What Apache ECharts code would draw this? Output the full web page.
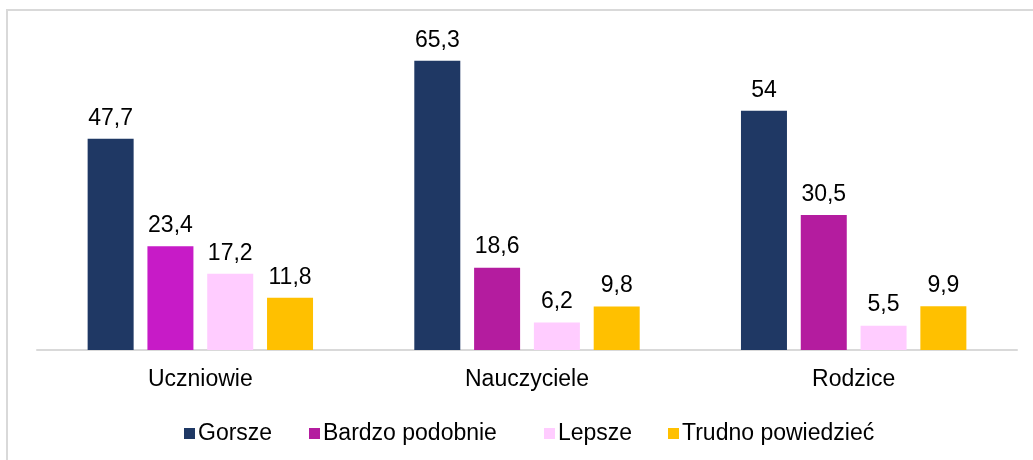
<!DOCTYPE html>
<html>
<head>
<meta charset="utf-8">
<script src="https://cdn.jsdelivr.net/npm/echarts@6/dist/echarts.min.js"></script>
<style>
  html, body { margin: 0; padding: 0; background: #fff; }
  #container { width: 1033px; height: 460px; }
</style>
</head>
<body>
<div id="container"></div>
<script>
var categories = ['Uczniowie', 'Nauczyciele', 'Rodzice'];
var seriesNames = ['Gorsze', 'Bardzo podobnie', 'Lepsze', 'Trudno powiedzieć'];
var gorsze = [47.7, 65.3, 54];
var bardzoPodobnie = [23.4, 18.6, 30.5];
var lepsze = [17.2, 6.2, 5.5];
var trudno = [11.8, 9.8, 9.9];

var colors = ['#1F3864', '#B41C9F', '#FFCCFF', '#FFC000'];
var font = 'Arial, "Liberation Sans", sans-serif';
var fs = 23;

var dom = document.getElementById('container');
var myChart = echarts.init(dom);

function labelCfg() {
    return {
        show: true,
        position: 'top',
        distance: 9,
        color: '#000',
        fontSize: fs,
        fontFamily: font,
        formatter: function (p) {
            return String(p.value).replace('.', ',');
        }
    };
}

function legendAt(name, left) {
    return {
        data: [name],
        left: left,
        top: 417,
        icon: 'rect',
        itemWidth: 11,
        itemHeight: 11,
        itemGap: 0,
        textStyle: { fontSize: fs, fontFamily: font, color: '#000', padding: [0, 0, 0, -2] }
    };
}

var allData = [gorsze, bardzoPodobnie, lepsze, trudno];
var series = seriesNames.map(function (name, i) {
    var data = allData[i].slice();
    if (i === 1) {
        // pierwszy słupek w innym odcieniu
        data[0] = { value: data[0], itemStyle: { color: '#C71BC7' } };
    }
    return {
        name: name,
        type: 'bar',
        barWidth: 46,
        barGap: '30%',
        itemStyle: { color: colors[i] },
        label: labelCfg(),
        data: data
    };
});

var option = {
    animation: false,
    graphic: [{
        type: 'rect',
        shape: { x: 7, y: 10, width: 1100, height: 600 },
        style: { fill: 'none', stroke: '#D9D9D9', lineWidth: 2 }
    }],
    legend: [
        legendAt('Gorsze', 179),
        legendAt('Bardzo podobnie', 304),
        legendAt('Lepsze', 539),
        legendAt('Trudno powiedzieć', 663)
    ],
    grid: { left: 37, right: 16, top: 40, bottom: 110 },
    xAxis: {
        type: 'category',
        data: categories,
        axisLine: { lineStyle: { color: '#D9D9D9', width: 2 } },
        axisTick: { show: false },
        axisLabel: { margin: 18, fontSize: fs, fontFamily: font, color: '#000' }
    },
    yAxis: {
        type: 'value',
        min: 0,
        max: 70,
        show: false,
        splitLine: { show: false }
    },
    series: series
};

myChart.setOption(option, true);
</script>
</body>
</html>
